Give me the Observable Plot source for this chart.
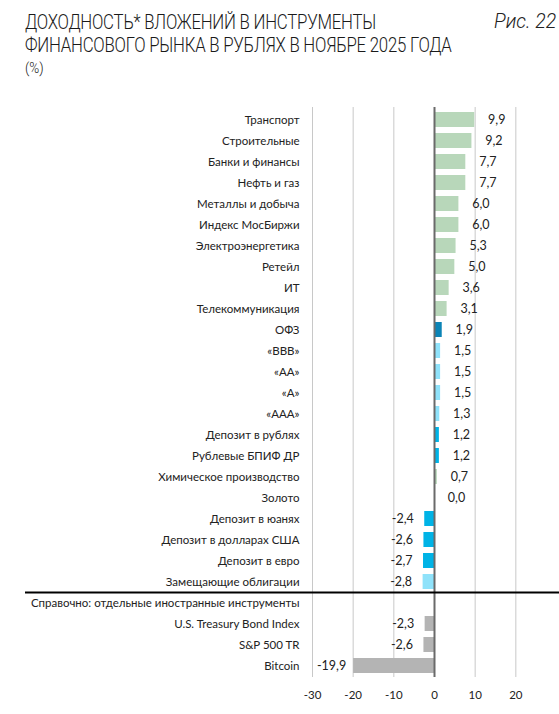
<!DOCTYPE html>
<html>
<head>
<meta charset="utf-8">
<script src="https://cdn.jsdelivr.net/npm/d3@7"></script>
<script src="https://cdn.jsdelivr.net/npm/@observablehq/plot@0.6"></script>
<style>
  html, body { margin: 0; padding: 0; background: #fff; }
  #wrap { position: relative; width: 559px; height: 714px; overflow: hidden; font-family: Lato, sans-serif; color: #222; }
  #head { position: relative; height: 90px; }
  .t { position: absolute; left: 25px; font-family: Roboto, sans-serif; font-weight: 300; font-size: 21px; line-height: 22px; color: #1a1a1a; letter-spacing: -0.3px; white-space: nowrap; transform: scaleX(0.8); transform-origin: 0 0; }
  #t1 { top: 11px; }
  #t2 { top: 34px; }
  #unit { position: absolute; left: 25px; top: 59px; font-family: Roboto, sans-serif; font-weight: 300; font-size: 15px; color: #222; transform: scaleX(0.9); transform-origin: 0 0; }
  #fig { position: absolute; left: 494px; top: 11px; font-family: Roboto, sans-serif; font-weight: 300; font-style: italic; font-size: 19.5px; line-height: 22px; color: #222; white-space: nowrap; }
  #chart svg { display: block; }
</style>
</head>
<body>
<div id="wrap">
  <div id="head">
    <div class="t" id="t1">ДОХОДНОСТЬ* ВЛОЖЕНИЙ В ИНСТРУМЕНТЫ</div>
    <div class="t" id="t2">ФИНАНСОВОГО РЫНКА В РУБЛЯХ В НОЯБРЕ 2025 ГОДА</div>
    <div id="unit">(%)</div>
    <div id="fig">Рис. 22</div>
  </div>
  <div id="chart"></div>
</div>
<script>
const categories = [
  "Транспорт", "Строительные", "Банки и финансы", "Нефть и газ", "Металлы и добыча",
  "Индекс МосБиржи", "Электроэнергетика", "Ретейл", "ИТ", "Телекоммуникация",
  "ОФЗ", "«BBB»", "«AA»", "«A»", "«AAA»", "Депозит в рублях", "Рублевые БПИФ ДР",
  "Химическое производство", "Золото", "Депозит в юанях", "Депозит в долларах США",
  "Депозит в евро", "Замещающие облигации",
  "Справочно: отдельные иностранные инструменты",
  "U.S. Treasury Bond Index", "S&P 500 TR", "Bitcoin"
];
const values = [
  9.9, 9.2, 7.7, 7.7, 6.0, 6.0, 5.3, 5.0, 3.6, 3.1,
  1.9, 1.5, 1.5, 1.5, 1.3, 1.2, 1.2, 0.7, 0.0, -2.4, -2.6, -2.7, -2.8,
  null, -2.3, -2.6, -19.9
];
const groups = [
  "sector", "sector", "sector", "sector", "sector", "sector", "sector", "sector", "sector", "sector",
  "ofz", "corp", "corp", "corp", "corp", "deposit", "deposit", "sector", "sector",
  "deposit", "deposit", "deposit", "corp",
  "none", "foreign", "foreign", "foreign"
];
const groupDomain = ["sector", "ofz", "corp", "deposit", "foreign", "none"];
const groupColors = ["#b8d7ba", "#0b84b6", "#8fe2fa", "#00b3e6", "#b4b4b4", "#ffffff"];
const xTicks = [-30, -20, -10, 0, 10, 20];
const gridTicks = [-30, -20, -10, 10, 20];
const separatorAfter = "Замещающие облигации";

const data = categories.map((c, i) => ({name: c, value: values[i], group: groups[i]}));
const bars = data.filter(d => d.value != null);

const W = 559, H = 624, mt = 17, mb = 37, ml = 312, mr = 3;
const padIn = 0.29, padOut = 0.17;
const step = (H - mt - mb) / (categories.length - padIn + 2 * padOut);
const fmt = v => v.toFixed(1).replace(".", ",");

const chart = Plot.plot({
  width: W, height: H,
  marginTop: mt, marginBottom: mb, marginLeft: ml, marginRight: mr,
  style: {fontFamily: "Lato, sans-serif", fontSize: "11.5px", color: "#222", background: "#fff"},
  x: {domain: [-30, 30], ticks: xTicks, tickFormat: d => String(d), tickSize: 0, tickPadding: 13, label: null},
  y: {domain: categories, paddingInner: padIn, paddingOuter: padOut, tickSize: 0, tickPadding: 13, label: null},
  color: {domain: groupDomain, range: groupColors},
  marks: [
    Plot.ruleX(gridTicks, {stroke: "#c8c8c8", strokeWidth: 1}),
    Plot.barX(bars, {x: "value", y: "name", fill: "group"}),
    Plot.ruleX([0], {stroke: "#6a6a6a", strokeWidth: 2}),
    Plot.text(bars, {
      x: "value", y: "name", text: d => fmt(d.value),
      textAnchor: "middle", fill: "#222", fontSize: 12.5,
      dx: 22, filter: d => d.value >= 0
    }),
    Plot.text(bars, {
      x: "value", y: "name", text: d => fmt(d.value),
      textAnchor: "middle", fill: "#222", fontSize: 12.5,
      dx: -22, filter: d => d.value < 0
    }),
    Plot.ruleY([separatorAfter], {dy: step / 2, stroke: "#000", strokeWidth: 2, insetLeft: -(ml - 25), insetRight: -mr})
  ]
});
document.getElementById("chart").appendChild(chart);
</script>
</body>
</html>
